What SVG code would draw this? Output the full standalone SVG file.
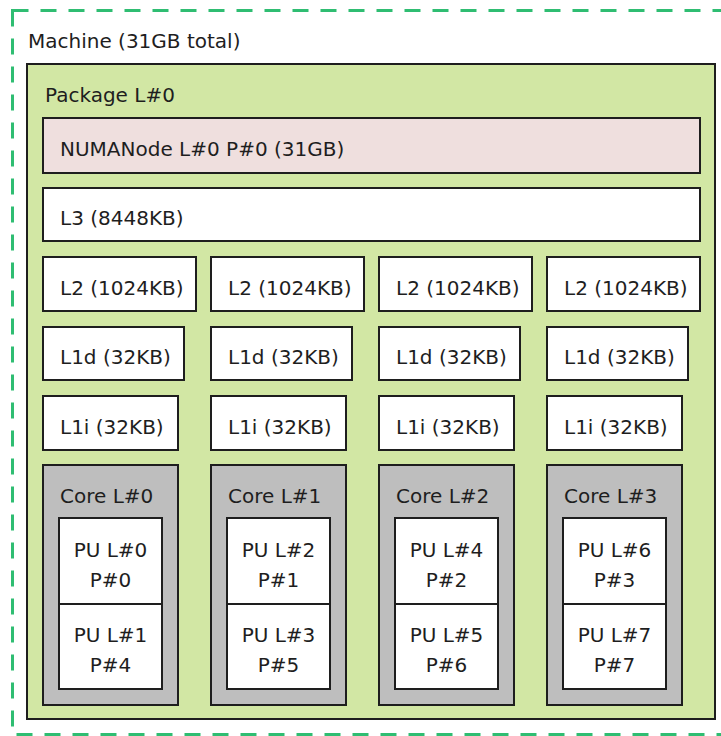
<svg xmlns="http://www.w3.org/2000/svg" width="721" height="736" viewBox="0 0 721 736">
<style>
text{font-family:"DejaVu Sans","Liberation Sans",sans-serif;font-size:20px;fill:#1e1e1e}
.box{stroke:#1e1e1e;stroke-width:2}
.pkg{fill:#d2e7a4}
.numa{fill:#efdfde}
.cache{fill:#ffffff}
.core{fill:#bebebe}
.pu{fill:#ffffff}
.mid{text-anchor:middle}
</style>
<rect x="0" y="0" width="721" height="736" fill="#ffffff"/>
<g id="machine">
<rect x="12.5" y="10.5" width="712" height="724" fill="#ffffff" stroke="#2fbd72" stroke-width="3" stroke-dasharray="16 12"/>
<text x="28" y="48">Machine (31GB total)</text>
</g>
<g id="package">
<rect class="box pkg" x="27" y="64" width="688" height="655"/>
<text x="45" y="102">Package L#0</text>
</g>
<g id="numanode">
<rect class="box numa" x="43" y="118" width="657" height="55"/>
<text x="60" y="156">NUMANode L#0 P#0 (31GB)</text>
</g>
<g id="l3">
<rect class="box cache" x="43" y="188" width="657" height="53"/>
<text x="60" y="225">L3 (8448KB)</text>
</g>
<g id="l2-0"><rect class="box cache" x="43" y="257" width="153" height="54"/><text x="60" y="295">L2 (1024KB)</text></g>
<g id="l2-1"><rect class="box cache" x="211" y="257" width="153" height="54"/><text x="228" y="295">L2 (1024KB)</text></g>
<g id="l2-2"><rect class="box cache" x="379" y="257" width="153" height="54"/><text x="396" y="295">L2 (1024KB)</text></g>
<g id="l2-3"><rect class="box cache" x="547" y="257" width="153" height="54"/><text x="564" y="295">L2 (1024KB)</text></g>
<g id="l1d-0"><rect class="box cache" x="43" y="327" width="141" height="53"/><text x="60" y="364">L1d (32KB)</text></g>
<g id="l1d-1"><rect class="box cache" x="211" y="327" width="141" height="53"/><text x="228" y="364">L1d (32KB)</text></g>
<g id="l1d-2"><rect class="box cache" x="379" y="327" width="141" height="53"/><text x="396" y="364">L1d (32KB)</text></g>
<g id="l1d-3"><rect class="box cache" x="547" y="327" width="141" height="53"/><text x="564" y="364">L1d (32KB)</text></g>
<g id="l1i-0"><rect class="box cache" x="43" y="396" width="135" height="54"/><text x="60" y="434">L1i (32KB)</text></g>
<g id="l1i-1"><rect class="box cache" x="211" y="396" width="135" height="54"/><text x="228" y="434">L1i (32KB)</text></g>
<g id="l1i-2"><rect class="box cache" x="379" y="396" width="135" height="54"/><text x="396" y="434">L1i (32KB)</text></g>
<g id="l1i-3"><rect class="box cache" x="547" y="396" width="135" height="54"/><text x="564" y="434">L1i (32KB)</text></g>
<g id="core-0"><rect class="box core" x="43" y="465" width="135" height="240"/><text x="60" y="503">Core L#0</text></g>
<g id="core-1"><rect class="box core" x="211" y="465" width="135" height="240"/><text x="228" y="503">Core L#1</text></g>
<g id="core-2"><rect class="box core" x="379" y="465" width="135" height="240"/><text x="396" y="503">Core L#2</text></g>
<g id="core-3"><rect class="box core" x="547" y="465" width="135" height="240"/><text x="564" y="503">Core L#3</text></g>
<g id="pu-0"><rect class="box pu" x="59" y="518" width="103" height="86"/><text class="mid" x="110.5" y="557">PU L#0</text><text class="mid" x="110.5" y="587">P#0</text></g>
<g id="pu-1"><rect class="box pu" x="59" y="604" width="103" height="85"/><text class="mid" x="110.5" y="642">PU L#1</text><text class="mid" x="110.5" y="672">P#4</text></g>
<g id="pu-2"><rect class="box pu" x="227" y="518" width="103" height="86"/><text class="mid" x="278.5" y="557">PU L#2</text><text class="mid" x="278.5" y="587">P#1</text></g>
<g id="pu-3"><rect class="box pu" x="227" y="604" width="103" height="85"/><text class="mid" x="278.5" y="642">PU L#3</text><text class="mid" x="278.5" y="672">P#5</text></g>
<g id="pu-4"><rect class="box pu" x="395" y="518" width="103" height="86"/><text class="mid" x="446.5" y="557">PU L#4</text><text class="mid" x="446.5" y="587">P#2</text></g>
<g id="pu-5"><rect class="box pu" x="395" y="604" width="103" height="85"/><text class="mid" x="446.5" y="642">PU L#5</text><text class="mid" x="446.5" y="672">P#6</text></g>
<g id="pu-6"><rect class="box pu" x="563" y="518" width="103" height="86"/><text class="mid" x="614.5" y="557">PU L#6</text><text class="mid" x="614.5" y="587">P#3</text></g>
<g id="pu-7"><rect class="box pu" x="563" y="604" width="103" height="85"/><text class="mid" x="614.5" y="642">PU L#7</text><text class="mid" x="614.5" y="672">P#7</text></g>
<g id="connectors"></g>
</svg>
